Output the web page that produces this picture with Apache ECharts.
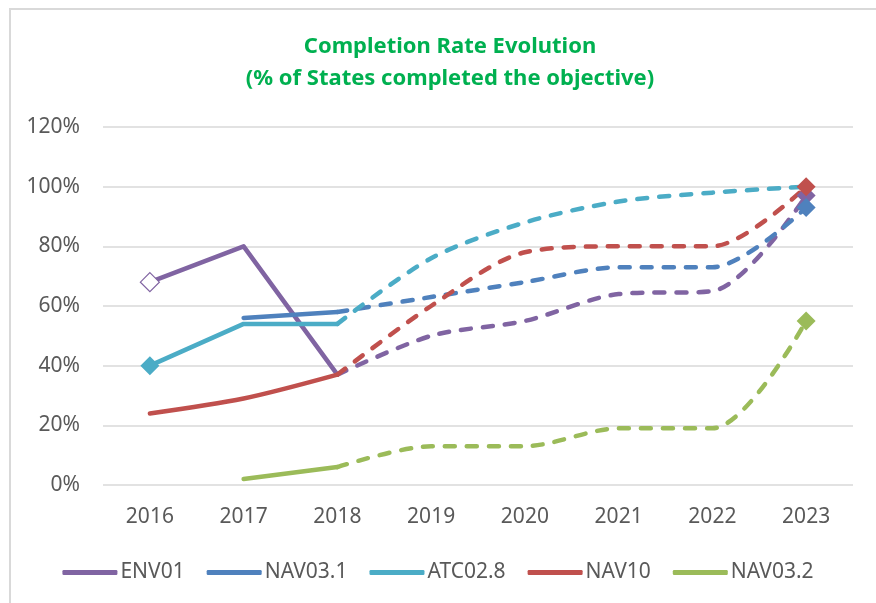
<!DOCTYPE html>
<html>
<head>
<meta charset="utf-8">
<script src="https://cdn.jsdelivr.net/npm/echarts@6/dist/echarts.min.js"></script>
<style>
  body { margin: 0; background: #fff; }
  #frame {
    position: absolute; left: 9px; top: 8px; right: -10px; bottom: -10px;
    border-top: 2px solid #d9d9d9; border-left: 2px solid #d9d9d9;
  }
  #main { position: absolute; left: 0; top: 0; width: 876px; height: 603px; }
</style>
</head>
<body>
<div id="frame"></div>
<div id="main"></div>
<script>
// 年份（x 轴）
const years = ["2016", "2017", "2018", "2019", "2020", "2021", "2022", "2023"];
const yTicks = [0, 20, 40, 60, 80, 100, 120];

// 实线部分 = 实际值（到 2018），虚线部分 = 预测值（2018 起）
const env01Actual = [68, 80, 37, null, null, null, null, null];
const env01Plan   = [null, null, 37, 50, 55, 64, 65, 97];
const nav031Actual = [null, 56, 58, null, null, null, null, null];
const nav031Plan   = [null, null, 58, 63, 68, 73, 73, 93];
const atc028Actual = [40, 54, 54, null, null, null, null, null];
const atc028Plan   = [null, null, 54, 76, 88, 95, 98, 100];
const nav10Actual = [24, 29, 37, null, null, null, null, null];
const nav10Plan   = [null, null, 37, 60, 78, 80, 80, 100];
const nav032Actual = [null, 2, 6, null, null, null, null, null];
const nav032Plan   = [null, null, 6, 13, 13, 19, 19, 55];

const names = ["ENV01", "NAV03.1", "ATC02.8", "NAV10", "NAV03.2"];
const colors = ["#8064a2", "#4f81bd", "#4bacc6", "#c0504d", "#9bbb59"];

const FONT = "Noto Sans";

// 只在部分点上画菱形标记
function withMarkers(arr, marks) {
  return arr.map((v, i) => {
    if (v == null || !marks[i]) return v;
    return Object.assign({ value: v, symbol: "diamond", symbolSize: 19 }, marks[i]);
  });
}

function solid(name, color, data, smooth) {
  return {
    name: name, type: "line", data: data, smooth: smooth,
    symbol: "none", showSymbol: true, connectNulls: false,
    lineStyle: { color: color, width: 4.5, cap: "round", join: "round" },
    itemStyle: { color: color },
    emphasis: { disabled: true }
  };
}
function dashed(name, color, data) {
  return {
    name: name, type: "line", data: data, smooth: 0.3,
    symbol: "none", showSymbol: true, connectNulls: false,
    lineStyle: { color: color, width: 4.5, type: [10, 12], cap: "round", join: "round" },
    itemStyle: { color: color },
    emphasis: { disabled: true }
  };
}

const endMark = { 7: {} };
const hollow = { itemStyle: { color: "#fff", borderColor: colors[0], borderWidth: 1.2 }, symbolSize: 19 };

const series = [
  solid(names[0], colors[0], withMarkers(env01Actual, { 0: hollow }), false),
  dashed(names[0], colors[0], withMarkers(env01Plan, endMark)),
  solid(names[1], colors[1], nav031Actual, 0.3),
  dashed(names[1], colors[1], withMarkers(nav031Plan, endMark)),
  solid(names[2], colors[2], withMarkers(atc028Actual, { 0: {} }), false),
  dashed(names[2], colors[2], atc028Plan),
  solid(names[3], colors[3], nav10Actual, 0.3),
  dashed(names[3], colors[3], withMarkers(nav10Plan, endMark)),
  solid(names[4], colors[4], nav032Actual, 0.3),
  dashed(names[4], colors[4], withMarkers(nav032Plan, endMark))
];

const chart = echarts.init(document.getElementById("main"));
chart.setOption({
  animation: false,
  backgroundColor: "transparent",
  title: {
    text: "Completion Rate Evolution\n(% of States completed the objective)",
    left: 445, top: 26, textAlign: "center",
    textStyle: { color: "#00b050", fontFamily: FONT, fontWeight: "bold", fontSize: 22, lineHeight: 32 }
  },
  legend: {
    data: names.map(n => ({ name: n, icon: "roundRect" })),
    left: "center", top: 557,
    itemWidth: 55, itemHeight: 5, itemGap: 22,
    textStyle: { color: "#595959", fontFamily: FONT, fontSize: 21, padding: [0, 0, 0, -2] }
  },
  grid: { left: 103, right: 23, top: 127, bottom: 118, containLabel: false },
  xAxis: {
    type: "category", data: years, boundaryGap: true,
    axisLine: { show: false }, axisTick: { show: false },
    axisLabel: { color: "#595959", fontFamily: FONT, fontSize: 21, margin: 22 }
  },
  yAxis: {
    type: "value", min: yTicks[0], max: yTicks[yTicks.length - 1], interval: 20,
    axisLine: { show: false }, axisTick: { show: false },
    splitLine: { lineStyle: { color: "#d9d9d9", width: 1.5 } },
    axisLabel: { color: "#595959", fontFamily: FONT, fontSize: 21, margin: 23, formatter: "{value}%" }
  },
  series: series
});
</script>
</body>
</html>
